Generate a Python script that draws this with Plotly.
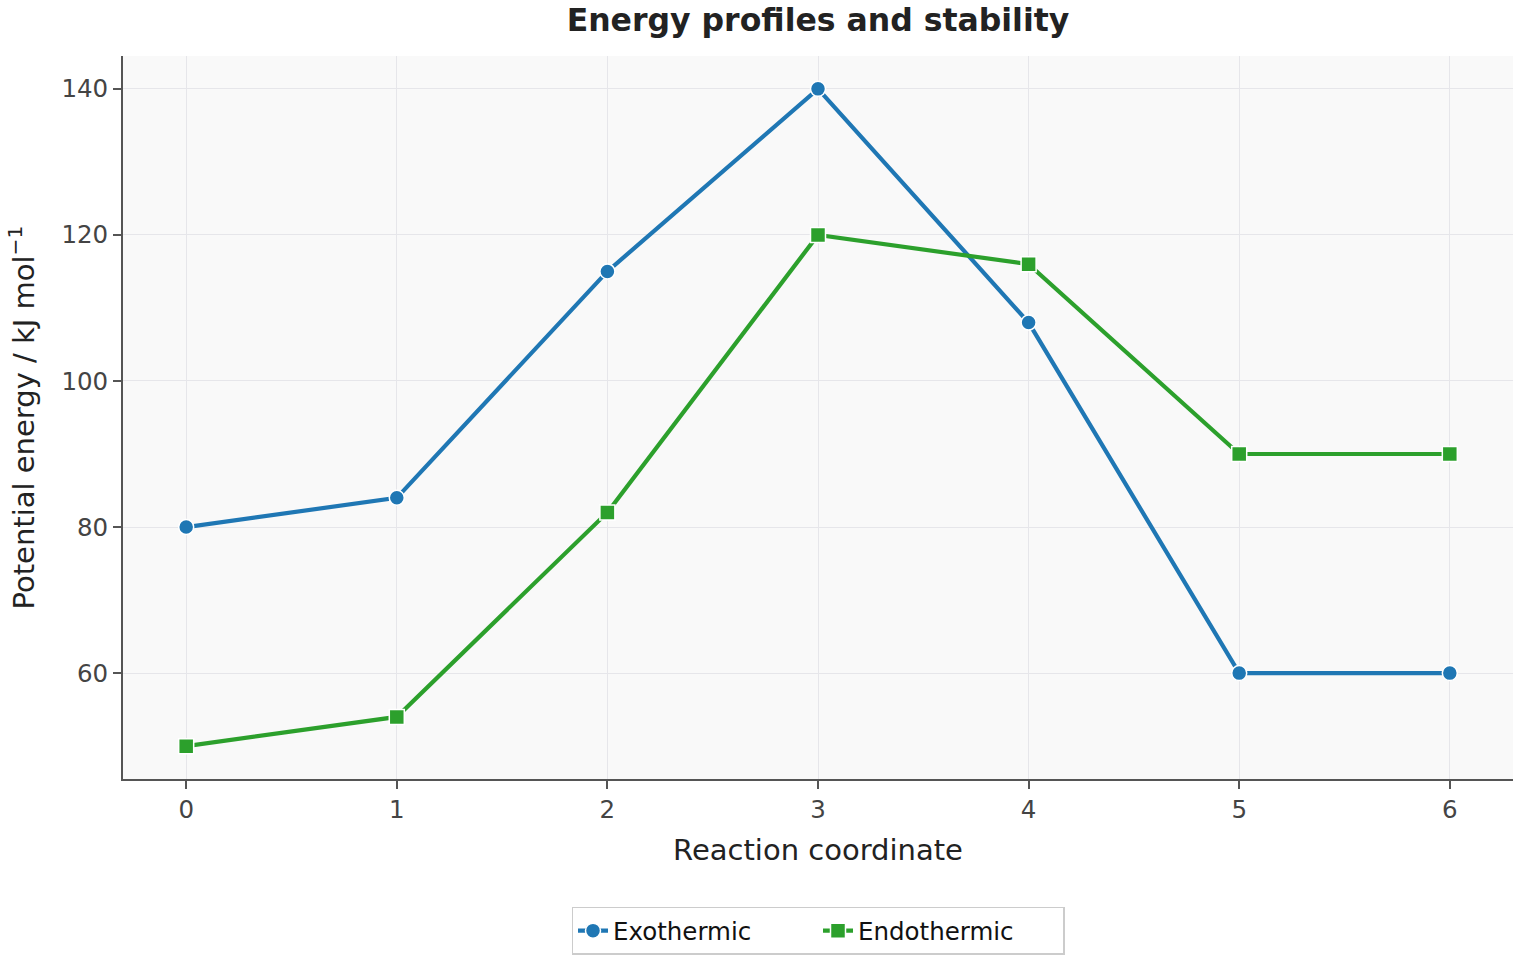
import plotly.graph_objects as go

x_vals = [0, 1, 2, 3, 4, 5, 6]
exo = [80, 84, 115, 140, 108, 60, 60]
endo = [50, 54, 82, 120, 116, 90, 90]
y_ticks = [60, 80, 100, 120, 140]

FONT = "DejaVu Sans"

fig = go.Figure()
fig.add_trace(go.Scatter(
    x=x_vals, y=exo, name="Exothermic", mode="lines+markers",
    line=dict(color="#1f77b4", width=4.2),
    marker=dict(symbol="circle", size=15, color="#1f77b4", line=dict(color="white", width=1.5)),
))
fig.add_trace(go.Scatter(
    x=x_vals, y=endo, name="Endothermic", mode="lines+markers",
    line=dict(color="#2ca02c", width=4.2),
    marker=dict(symbol="square", size=15, color="#2ca02c", line=dict(color="white", width=1.5)),
))

fig.update_layout(
    width=1520, height=960,
    margin=dict(l=123, r=7, t=56, b=180),
    paper_bgcolor="white",
    plot_bgcolor="#f9f9f9",
    font=dict(family=FONT, color="#333333"),
    title=dict(text="<b>Energy profiles and stability</b>", x=0.5, xref="paper",
               y=1 - 20 / 960, yref="container", yanchor="middle",
               font=dict(family=FONT, size=31.5, color="#222222")),
    showlegend=True,
    legend=dict(orientation="h", x=0.5, xanchor="center", y=-0.175, yanchor="top",
                bordercolor="#cccccc", borderwidth=1.5, bgcolor="white",
                entrywidth=200, entrywidthmode="pixels",
                font=dict(family=FONT, size=24.5, color="#111111")),
)

fig.update_xaxes(
    range=[-0.3, 6.3], tickvals=x_vals, ticktext=[str(v) for v in x_vals],
    showline=True, linecolor="#555555", linewidth=1.8, mirror=False,
    ticks="outside", ticklen=8, tickwidth=1.5, tickcolor="#555555",
    showgrid=True, gridcolor="#e6e6ea", gridwidth=1.2, zeroline=False,
    tickfont=dict(family=FONT, size=24.5, color="#444444"),
    title=dict(text="Reaction coordinate", font=dict(family=FONT, size=29, color="#222222"), standoff=16),
)
fig.update_yaxes(
    range=[45.5, 144.5], tickvals=y_ticks, ticktext=[str(v) for v in y_ticks],
    showline=True, linecolor="#555555", linewidth=1.8, mirror=False,
    ticks="outside", ticklen=8, tickwidth=1.5, tickcolor="#555555",
    showgrid=True, gridcolor="#e6e6ea", gridwidth=1.2, zeroline=False,
    tickfont=dict(family=FONT, size=24.5, color="#444444"),
    title=dict(text="Potential energy / kJ mol<sup>−1</sup>", font=dict(family=FONT, size=29, color="#222222"), standoff=18),
)

fig.write_html("out.html")
